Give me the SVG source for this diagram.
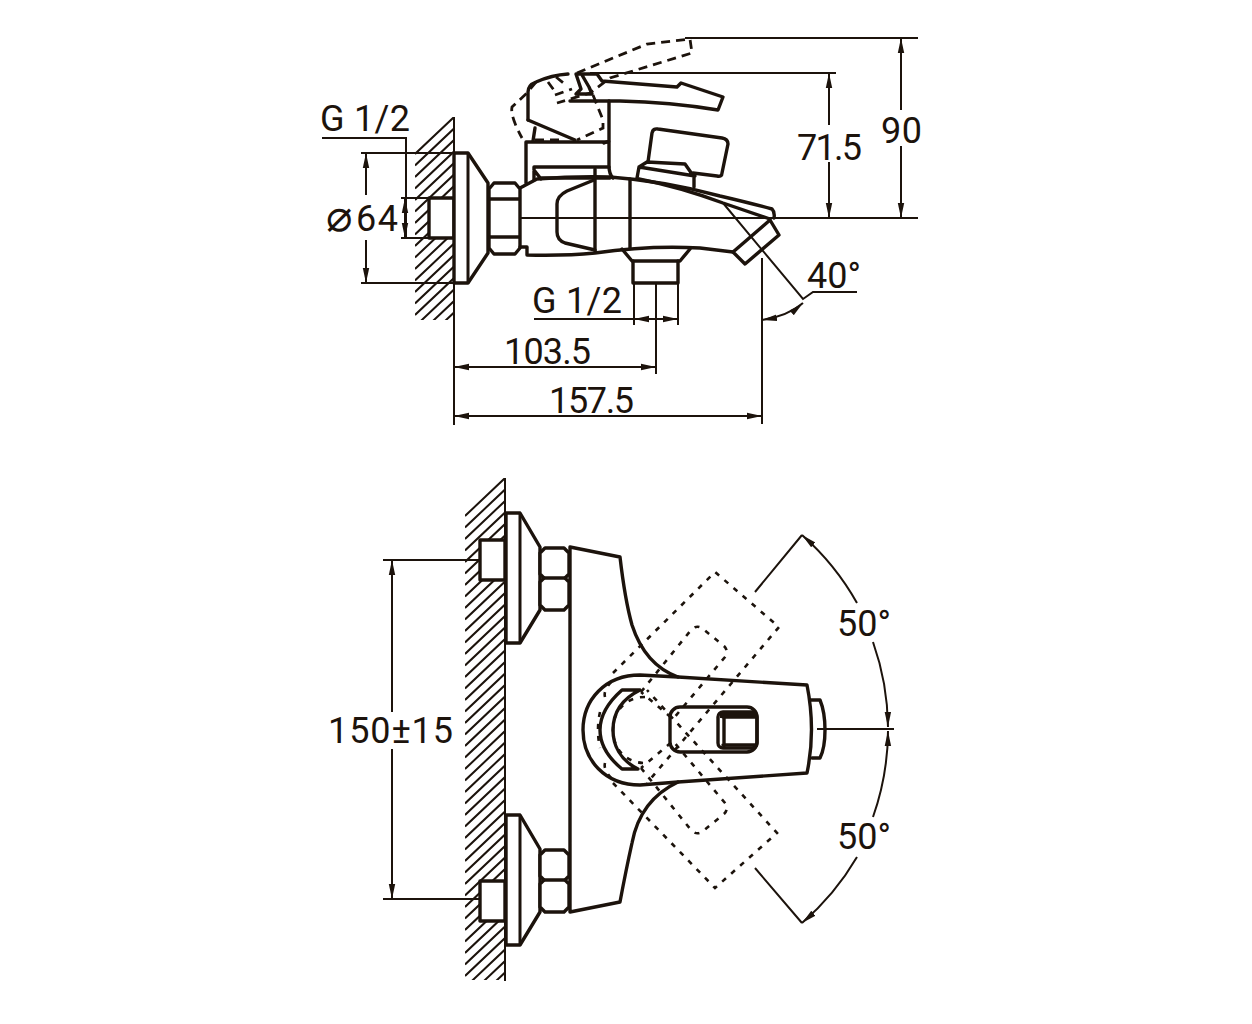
<svg xmlns="http://www.w3.org/2000/svg" width="1252" height="1024" viewBox="0 0 1252 1024">
<style>
.m{fill:none;stroke:#1c130c;stroke-width:3.4;stroke-linejoin:round;stroke-linecap:round}
.w{fill:#fff;stroke:#1c130c;stroke-width:3.4;stroke-linejoin:round}
.s{fill:none;stroke:#1c130c;stroke-width:2}
.a{fill:none;stroke:#1c130c;stroke-width:2;marker-end:url(#ar)}
.c{fill:none;stroke:#1c130c;stroke-width:2;marker-start:url(#ar)}
.b{fill:none;stroke:#1c130c;stroke-width:2;marker-start:url(#ar);marker-end:url(#ar)}
.d{fill:none;stroke:#1c130c;stroke-width:2.8;stroke-dasharray:9 6}
.o{fill:none;stroke:#1c130c;stroke-width:2.6;stroke-dasharray:5 7}
text{font-family:Roboto,"Liberation Sans",sans-serif;font-size:36px;fill:#1c130c}
</style>
<defs>
<marker id="ar" markerUnits="userSpaceOnUse" markerWidth="18" markerHeight="10" refX="15" refY="5" orient="auto-start-reverse"><path d="M0,1.8L15,5L0,8.2Z" fill="#1c130c"/></marker>
<clipPath id="c1"><rect x="415" y="117" width="39" height="203"/></clipPath>
<clipPath id="c2"><rect x="465" y="478" width="40" height="502"/></clipPath>
</defs>
<rect width="1252" height="1024" fill="#fff"/>
<g id="side-view">
<path clip-path="url(#c1)" class="s" d="M415,154l39-37m-39 48.5l39-37m-39 48.5l39-37m-39 48.5l39-37m-39 48.5l39-37m-39 48.5l39-37m-39 48.5l39-37m-39 48.5l39-37m-39 48.5l39-37m-39 48.5l39-37m-39 48.5l39-37m-39 48.5l39-37m-39 48.5l39-37m-39 48.5l39-37m-39 48.5l39-37m-39 48.5l39-37m-39 48.5l39-37m-39 48.5l39-37"/>
<path class="s" d="M454,117V425"/>
<rect class="w" x="429" y="198" width="25" height="40"/>
<path class="w" d="M454,153H468L488,183V253L468,283H454Z"/>
<path class="s" d="M468,153V283" style="stroke-width:3"/>
<path class="w" d="M489,189L494,183H515L520,189V248L515,254H494L489,248Z"/>
<path class="m" d="M490,199H519M490,237H519"/>
<path class="m" d="M520,188L537,179Q575,176 610,177Q665,181 720,196Q750,203 772,209Q775,212 774,218"/>
<path class="m" d="M639,179Q680,187 723,203L770,219"/>
<path class="m" d="M520,247H527V255Q565,256 595,253Q650,245 700,248L733,252"/>
<path class="m" d="M595,169V251M630,179V248"/>
<path class="m" d="M594,180L567,191Q557,196 557,204V232Q557,240 565,243L595,250"/>
<path class="w" d="M733,252L770,220L779,235L745,264Z"/>
<path class="m" d="M622,249L632,261H680L690,249"/>
<path class="m" d="M633,261V283H678V261"/>
<path class="m" d="M526,183V142H609V166Q609,174 613,178"/>
<path class="m" d="M534,180V167H609M534,170L541,179M540,178H610"/>
<path class="m" d="M535,128L533,141"/>
<path class="m" d="M528,120V92Q528,85 536,82Q552,75 568,74"/>
<path class="m" d="M528,120L575,140"/>
<path class="m" d="M609,101V141L604,143"/>
<path class="m" d="M570,101H620Q670,102 718,110L723,97L681,83L677,87L602,81L597,74H576L581,89L576,94H592L589,87L582,75"/>
<path class="m" d="M637,178L639,167L647,162L685,164L692,174L694,176V187M639,167L695,176"/>
<path class="m" d="M648,162L652,133Q653,128 658,129L722,138Q728,139 728,144L722,173Q722,177 717,176L693,173"/>
<path class="d" d="M577,73L647,44L690,39L692,53L610,78L590,93L557,103"/>
<path class="d" d="M555,95L572,89M536,82L527,93L512,107Q510,116 522,138"/>
<path class="d" d="M548,82L556,93M556,77L567,86M593,95L603,120V128L577,140M535,140H565"/>
<path class="s" d="M520,218H918M685,38H918M590,73H836"/>
<path class="s" d="M723,203L803,299L813,292H857"/>
<path class="s" d="M762,258V424"/>
</g>
<g id="front-view">
<path clip-path="url(#c2)" class="s" d="M465,516l40-38m-40 49.5l40-38m-40 49.5l40-38m-40 49.5l40-38m-40 49.5l40-38m-40 49.5l40-38m-40 49.5l40-38m-40 49.5l40-38m-40 49.5l40-38m-40 49.5l40-38m-40 49.5l40-38m-40 49.5l40-38m-40 49.5l40-38m-40 49.5l40-38m-40 49.5l40-38m-40 49.5l40-38m-40 49.5l40-38m-40 49.5l40-38m-40 49.5l40-38m-40 49.5l40-38m-40 49.5l40-38m-40 49.5l40-38m-40 49.5l40-38m-40 49.5l40-38m-40 49.5l40-38m-40 49.5l40-38m-40 49.5l40-38m-40 49.5l40-38m-40 49.5l40-38m-40 49.5l40-38m-40 49.5l40-38m-40 49.5l40-38m-40 49.5l40-38m-40 49.5l40-38m-40 49.5l40-38m-40 49.5l40-38m-40 49.5l40-38m-40 49.5l40-38m-40 49.5l40-38m-40 49.5l40-38m-40 49.5l40-38m-40 49.5l40-38m-40 49.5l40-38m-40 49.5l40-38"/>
<path class="s" d="M505,478V981"/>
<rect class="w" x="480" y="540" width="25" height="40"/>
<rect class="w" x="480" y="881" width="25" height="40"/>
<path class="w" d="M506,513H520L540,547V610L520,643H506Z"/>
<path class="w" d="M506,815H520L540,849V912L520,945H506Z"/>
<path class="s" d="M520,513V643M520,815V945" style="stroke-width:3"/>
<path class="w" d="M540,553L545,548H564L569,553V574L565,578L569,582V605L564,610H545L540,605V582L544,578L540,574Z"/>
<path class="w" d="M540,855L545,850H564L569,855V876L565,880L569,884V907L564,912H545L540,907V884L544,880L540,876Z"/>
<path class="m" d="M544,578H565M544,880H565"/>
<path class="m" d="M570,547V912L620,902Q626,870 632,843Q640,800 678,782L807,773Q816,730 807,685L678,677Q645,665 632,625Q625,600 620,557L570,547"/>
<path class="m" d="M678,677L640,675C605,675 583,700 583,730C583,760 605,785 640,785L678,782"/>
<path class="m" d="M640,690H622C605,705 600,718 600,730C600,742 605,755 622,769H638C620,760 613,745 613,730C613,715 620,700 640,690Z"/>
<rect class="m" x="670" y="707" width="87" height="45" rx="10"/>
<rect class="m" x="718" y="712" width="39" height="36" rx="5"/>
<path class="m" d="M723,717H756M724,714V746M723,745H756"/>
<rect x="720" y="711" width="37" height="7" fill="#1c130c"/>
<path class="m" d="M811,700H820Q825,712 825,730Q825,748 820,758H812"/>
<path class="o" d="M613,673L715,572L779,627L647,783"/>
<path class="o" d="M613,783L715,888L777,833L647,690"/>
<path class="o" d="M641,692L691,630Q697,624 703,629L724,646Q729,651 725,657L673,719L641,692"/>
<path class="o" d="M641,768L691,830Q697,836 703,831L724,814Q729,809 725,803L673,741L641,768"/>
<path class="o" d="M645,697C625,697 613,712 613,730C613,748 625,763 645,763"/>
<path class="o" d="M600,712Q596,730 600,748M605,697Q603,690 613,680M605,763Q603,770 613,780"/>
<path class="s" d="M817,729H894"/>
<path class="s" d="M755,592L802,535M755,868L802,923"/>
</g>
<g id="connectors">
<path class="s" d="M322,138H406V238"/>
<path class="s" d="M361,153H454M361,283H454M401,198H429M401,238H429"/>
<path class="a" d="M366,195V153"/>
<path class="a" d="M366,240V283"/>
<path class="b" d="M405,198V238"/>
<path class="c" d="M829,73V125"/>
<path class="a" d="M829,162V218"/>
<path class="c" d="M901,38V110"/>
<path class="a" d="M901,146V218"/>
<path class="b" d="M803,303Q788,316 762,320"/>
<path class="s" d="M534,319H634M634,283V325M678,283V325M656,283V374"/>
<path class="b" d="M634,319H678"/>
<path class="b" d="M454,367H656"/>
<path class="b" d="M454,416H762"/>
<path class="c" d="M392,560V712"/>
<path class="a" d="M392,749V899"/>
<path class="c" d="M802,535A262,262 0 0 1 857,603"/>
<path class="a" d="M873,642A262,262 0 0 1 888,727"/>
<path class="a" d="M873,817A262,262 0 0 0 888,731"/>
<path class="a" d="M857,857A262,262 0 0 1 802,923"/>
<path class="s" d="M383,560H480M383,899H480"/>
</g>
<g id="labels">
<text x="320" y="131" textLength="90">G 1/2</text>
<text x="326" y="231" style="font-family:'DejaVu Sans',sans-serif;font-size:44px">⌀</text>
<text x="356" y="231" textLength="42">64</text>
<text x="797" y="160" textLength="65">71.5</text>
<text x="881" y="143" textLength="41">90</text>
<text x="807" y="288" textLength="54">40°</text>
<text x="532" y="313" textLength="90">G 1/2</text>
<text x="504" y="364" textLength="87">103.5</text>
<text x="549" y="413" textLength="85">157.5</text>
<text x="328" y="743" textLength="125">150±15</text>
<text x="837" y="636" textLength="54">50°</text>
<text x="837" y="849" textLength="54">50°</text>
</g>
</svg>
